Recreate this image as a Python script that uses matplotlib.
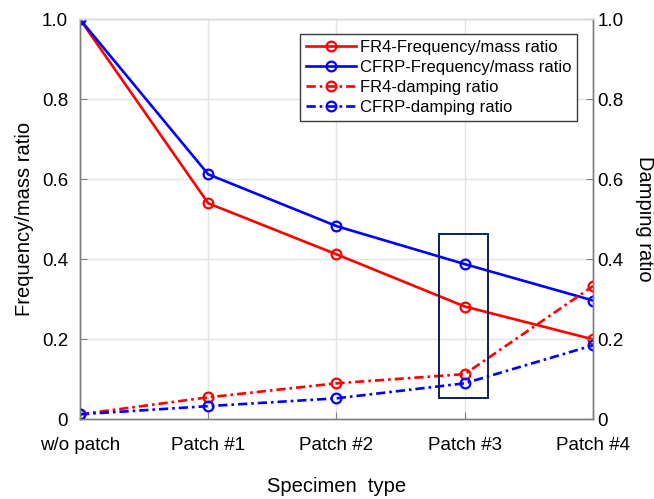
import matplotlib.pyplot as plt
from matplotlib.patches import Rectangle

plt.rcParams['font.family'] = ['Liberation Sans', 'DejaVu Sans']

specimens = ['w/o patch', 'Patch #1', 'Patch #2', 'Patch #3', 'Patch #4']
fr4_freq = [1.0, 0.54, 0.4125, 0.282, 0.2]
cfrp_freq = [1.0, 0.6125, 0.483, 0.388, 0.297]
fr4_damp = [0.0125, 0.055, 0.09, 0.113, 0.333]
cfrp_damp = [0.0125, 0.033, 0.0525, 0.09, 0.185]
yticks = [0, 0.2, 0.4, 0.6, 0.8, 1.0]
ytick_labels = ['0', '0.2', '0.4', '0.6', '0.8', '1.0']

x = list(range(len(specimens)))
spine_grey = '#7f7f7f'
dash_dot = (0, (3.5, 1.5, 1, 1.5))

fig = plt.figure(figsize=(6.54, 4.99), dpi=100)
ax = fig.add_axes([0.1223, 0.1597, 0.7844, 0.8016])
ax2 = ax.twinx()

line_kw = dict(lw=1.9, marker='o', markersize=7, markerfacecolor='none',
               markeredgewidth=1.6)
h1, = ax.plot(x, fr4_freq, color='#ff0000', ls='-', label='FR4-Frequency/mass ratio', **line_kw)
h2, = ax.plot(x, cfrp_freq, color='#0000ff', ls='-', label='CFRP-Frequency/mass ratio', **line_kw)
h3, = ax2.plot(x, fr4_damp, color='#ff0000', ls=dash_dot, label='FR4-damping ratio', **line_kw)
h4, = ax2.plot(x, cfrp_damp, color='#0000ff', ls=dash_dot, label='CFRP-damping ratio', **line_kw)

# box highlighting Patch #3
ax2.add_patch(Rectangle((2.8, 0.054), 0.38, 0.4085, fill=False,
                        edgecolor='#0f1e5a', lw=1.4, zorder=5))

for a in (ax, ax2):
    a.set_xlim(0, 4)
    a.set_ylim(0, 1)
    a.set_yticks(yticks)
    a.set_yticklabels(ytick_labels)
    for s in a.spines.values():
        s.set_color(spine_grey)
        s.set_linewidth(1.0)
    a.spines['top'].set_color('#d9d9d9')

ax.set_xticks(x)
ax.set_xticklabels(specimens)
ax.grid(True, color='#e3e3e3', lw=1.0)
ax.set_axisbelow(True)
ax.tick_params(axis='x', direction='in', length=5, color=spine_grey, pad=13,
               labelsize=13.5, top=False)
ax.tick_params(axis='y', direction='in', length=5, color=spine_grey, pad=8.5,
               labelsize=13.5)
ax2.tick_params(axis='y', direction='in', length=5, color=spine_grey, pad=3,
                labelsize=13.5)

ax.set_xlabel('Specimen  type', fontsize=14.5, labelpad=16.5)
ax.set_ylabel('Frequency/mass ratio', fontsize=14.5, labelpad=6)
ax2.set_ylabel('Damping ratio', fontsize=14.5, rotation=270, labelpad=22)

leg = ax2.legend(handles=[h1, h2, h3, h4], loc='upper right',
                 bbox_to_anchor=(0.969, 0.963), borderaxespad=0, fontsize=12,
                 handlelength=3.0, handletextpad=0.25, labelspacing=0.3,
                 borderpad=0.35, fancybox=False, framealpha=1.0,
                 edgecolor='#3a3a3a')
leg.get_frame().set_linewidth(1.0)

fig.savefig('out.png', dpi=100)
